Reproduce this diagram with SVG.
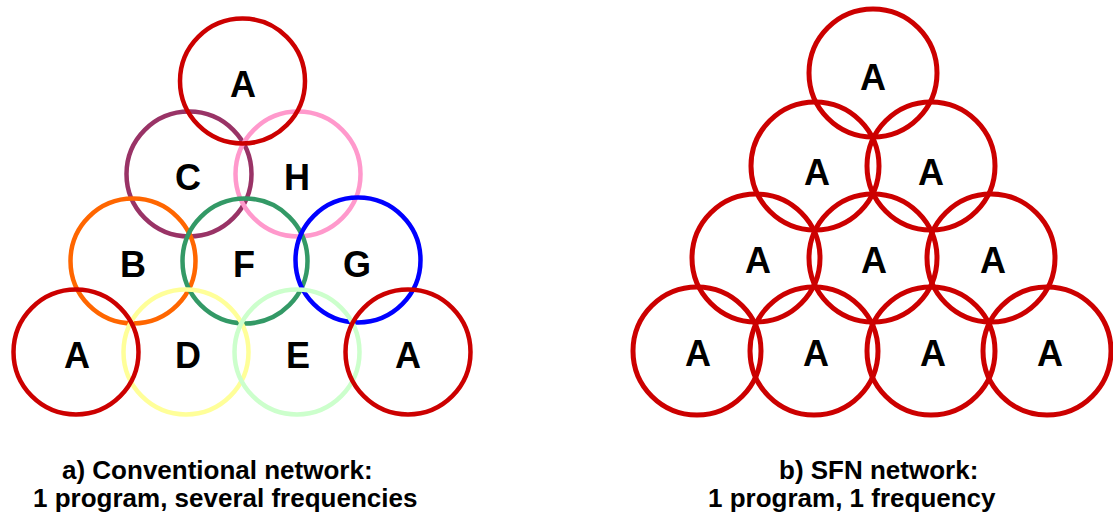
<svg xmlns="http://www.w3.org/2000/svg" width="1113" height="515" viewBox="0 0 1113 515">
<style>
.c{fill:none;stroke-width:4.5}
.r{fill:none;stroke:#CC0000;stroke-width:5}
.l{font-family:"Liberation Sans",Arial,sans-serif;font-weight:bold;font-size:36px;fill:#000;text-anchor:middle}
.cap{font-family:"Liberation Sans",Arial,sans-serif;font-weight:bold;font-size:26px;fill:#000}
</style>
<rect width="1113" height="515" fill="#fff"/>
<g id="conventional">
<g id="nC"><circle class="c" cx="189" cy="174" r="62.5" stroke="#993366"/><text class="l" x="188" y="190">C</text></g>
<g id="nH"><circle class="c" cx="298" cy="174" r="62.5" stroke="#FF99CC"/><text class="l" x="297" y="190">H</text></g>
<g id="nB"><circle class="c" cx="133" cy="261" r="62.5" stroke="#FF6600"/><text class="l" x="133" y="277">B</text></g>
<g id="nF"><circle class="c" cx="245" cy="261" r="62.5" stroke="#339966"/><text class="l" x="244" y="277">F</text></g>
<g id="nG"><circle class="c" cx="358" cy="260" r="62.5" stroke="#0000FF"/><text class="l" x="357" y="277">G</text></g>
<g id="nD"><circle class="c" cx="186" cy="352" r="62.5" stroke="#FFFF99"/><text class="l" x="188" y="368">D</text></g>
<g id="nE"><circle class="c" cx="297" cy="352" r="62.5" stroke="#CCFFCC"/><text class="l" x="298" y="368">E</text></g>
<g id="nA1"><circle class="c" cx="242.5" cy="81" r="62.5" stroke="#CC0000"/><text class="l" x="243" y="97">A</text></g>
<g id="nA2"><circle class="c" cx="76" cy="352" r="62.5" stroke="#CC0000"/><text class="l" x="77" y="368">A</text></g>
<g id="nA3"><circle class="c" cx="408" cy="352" r="62.5" stroke="#CC0000"/><text class="l" x="408" y="368">A</text></g>
</g>
<g id="sfn">
<g id="s1"><circle class="r" cx="873" cy="73" r="64"/><text class="l" x="873" y="90">A</text></g>
<g id="s2"><circle class="r" cx="815" cy="166" r="64"/><text class="l" x="817" y="185">A</text></g>
<g id="s3"><circle class="r" cx="931" cy="166" r="64"/><text class="l" x="931" y="185">A</text></g>
<g id="s4"><circle class="r" cx="756" cy="258" r="64"/><text class="l" x="758" y="273">A</text></g>
<g id="s5"><circle class="r" cx="873" cy="258" r="64"/><text class="l" x="874" y="273">A</text></g>
<g id="s6"><circle class="r" cx="991" cy="258" r="64"/><text class="l" x="993" y="273">A</text></g>
<g id="s7"><circle class="r" cx="697" cy="351" r="64"/><text class="l" x="698" y="366">A</text></g>
<g id="s8"><circle class="r" cx="814" cy="351" r="64"/><text class="l" x="816" y="366">A</text></g>
<g id="s9"><circle class="r" cx="931" cy="351" r="64"/><text class="l" x="933" y="366">A</text></g>
<g id="s10"><circle class="r" cx="1047" cy="351" r="64"/><text class="l" x="1050" y="366">A</text></g>
</g>
<g id="connectors"></g>
<g id="captions">
<text class="cap" x="62" y="479">a) Conventional network:</text>
<text class="cap" x="33" y="507">1 program, several frequencies</text>
<text class="cap" x="779" y="479">b) SFN network:</text>
<text class="cap" x="708" y="507">1 program, 1 frequency</text>
</g>
</svg>
